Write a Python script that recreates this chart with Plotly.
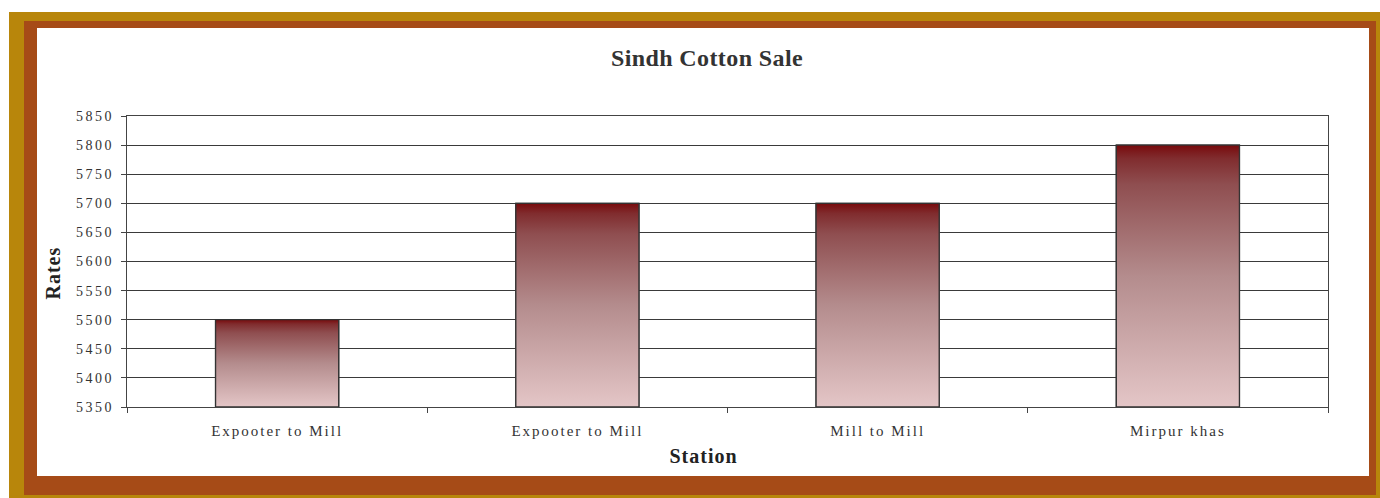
import plotly.graph_objects as go

categories = ["Expooter to Mill", "Expooter to Mill", "Mill to Mill", "Mirpur khas"]
rates = [5500, 5700, 5700, 5800]
y_ticks = list(range(5350, 5851, 50))

title_text = "Sindh Cotton Sale"
x_title = "Station"
y_title = "Rates"

W, H = 1380, 498
ML, MR, MT, MB = 127, 52, 116, 91
PW, PH = W - ML - MR, H - MT - MB

def px_x(px):
    return (px - ML) / PW

def px_y(py):
    return (H - MB - py) / PH

positions = list(range(len(categories)))
bar_w = 0.41
y_min, y_max = y_ticks[0], y_ticks[-1]

gradient = [[0, "#e4c6c7"], [0.5, "#b48c8d"], [0.85, "#8f4e50"],
            [0.95, "#802c2e"], [1, "#780a0c"]]

fig = go.Figure()
fig.add_trace(go.Bar(x=positions, y=rates, width=bar_w,
                     marker=dict(color="#b48c8d", line=dict(color="#333333", width=1.3)),
                     hoverinfo="skip", showlegend=False))
for p, v in zip(positions, rates):
    fig.add_trace(go.Scatter(
        x=[p - bar_w / 2, p + bar_w / 2, p + bar_w / 2, p - bar_w / 2, p - bar_w / 2],
        y=[y_min, y_min, v, v, y_min],
        mode="lines", fill="toself",
        fillgradient=dict(type="vertical", colorscale=gradient),
        line=dict(color="#333333", width=1.3),
        hoverinfo="skip", showlegend=False))

serif = "Liberation Serif"
fig.update_layout(
    width=W, height=H,
    margin=dict(l=ML, r=MR, t=MT, b=MB, pad=0),
    paper_bgcolor="white", plot_bgcolor="rgba(0,0,0,0)",
    title=dict(text=f"<b>{title_text}</b>", x=707 / W, xanchor="center",
               y=1 - 58 / H, yanchor="middle", xref="container", yref="container",
               font=dict(family=serif, size=24, color="#333333")),
    xaxis=dict(range=[-0.5, len(categories) - 0.5], tickmode="array",
               tickvals=positions, ticktext=categories, ticks="",
               ticklabelstandoff=10,
               tickfont=dict(family=serif, size=15, color="#333333"),
               showgrid=False, zeroline=False,
               showline=True, linecolor="#444444", linewidth=1.2, mirror=True,
               minor=dict(tickmode="array",
                          tickvals=[p + 0.5 for p in [-1] + positions],
                          ticks="outside", ticklen=5, tickcolor="#444444",
                          tickwidth=1, showgrid=False)),
    yaxis=dict(range=[y_min, y_max], tickmode="array", tickvals=y_ticks,
               ticks="outside", ticklen=5, tickcolor="#444444",
               ticklabelstandoff=4,
               tickfont=dict(family=serif, size=14, color="#333333"),
               showgrid=True, gridcolor="#3a3a3a", gridwidth=1, zeroline=False,
               showline=True, linecolor="#444444", linewidth=1.2, mirror=True),
    shapes=[
        dict(type="rect", xref="paper", yref="paper", layer="below",
             x0=px_x(9), x1=px_x(1380), y0=px_y(12), y1=px_y(498),
             fillcolor="#b8860b", line=dict(width=0)),
        dict(type="rect", xref="paper", yref="paper", layer="below",
             x0=px_x(24), x1=px_x(1376), y0=px_y(21), y1=px_y(495),
             fillcolor="#a64b17", line=dict(width=0)),
        dict(type="rect", xref="paper", yref="paper", layer="below",
             x0=px_x(37), x1=px_x(1369), y0=px_y(28), y1=px_y(476),
             fillcolor="white", line=dict(width=0)),
    ],
    annotations=[
        dict(text=f"<b>{y_title}</b>", xref="paper", yref="paper",
             x=px_x(53), y=px_y(273), textangle=-90, showarrow=False,
             xanchor="center", yanchor="middle",
             font=dict(family=serif, size=20, color="#222222")),
        dict(text=f"<b>{x_title}</b>", xref="paper", yref="paper",
             x=px_x(703), y=px_y(456), showarrow=False,
             xanchor="center", yanchor="middle",
             font=dict(family=serif, size=20, color="#222222")),
    ],
)

post_js = (
    "document.body.style.margin='0';"
    "var s=document.createElement('style');"
    "s.textContent='.xtick text{letter-spacing:2px}.ytick text{letter-spacing:2.5px}"
    ".gtitle{letter-spacing:0.4px}.annotation-text{letter-spacing:1px}';"
    "document.head.appendChild(s);"
)

fig.write_html("out.html", post_script=post_js,
               config={"displayModeBar": False, "staticPlot": False})
